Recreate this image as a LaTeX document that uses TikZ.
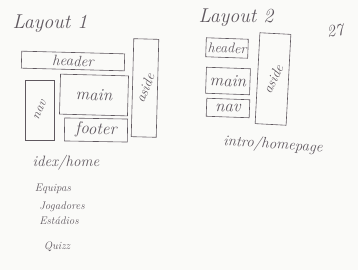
\documentclass[tikz,border=0pt]{standalone}
\usepackage{tikz}
\usetikzlibrary{positioning}
\definecolor{pencil}{RGB}{95,88,95}
\definecolor{paper}{RGB}{250,250,248}
\tikzset{
  box/.style={draw=pencil, line width=0.6pt, inner sep=0pt, text=pencil},
  hand/.style={text=pencil, font=\itshape},
}
\newcommand{\fsz}[1]{\itshape\fontsize{#1}{#1}\selectfont}

\begin{document}
\begin{tikzpicture}[x=1pt,y=-1pt]
\fill[paper] (0,0) rectangle (358,270);
\useasboundingbox (0,0) rectangle (358,270);
% first layout
\node (titA) at (50,24) [hand, font=\fsz{20}] {Layout 1};
\node (hdrA) at (73,61) [box, rotate=-1.5, minimum width=103, minimum height=17, font=\fsz{15}] {header};
\node (navA) at (40,110) [box, minimum width=29, minimum height=60, font=\fsz{13}] {\raisebox{-20pt}{\rotatebox{65}{nav}}};
\node (mainA) at (94,95) [box, rotate=-1.5, minimum width=68, minimum height=40, font=\fsz{17}] {main};
\node (ftrA) at (96,130) [box, rotate=-1, minimum width=63, minimum height=23, font=\fsz{17}] {footer};
\node (asdA) at (145,88) [box, rotate=-1.5, minimum width=25, minimum height=98, font=\fsz{14}] {\rotatebox{70}{aside}};
% pages of the first layout
\node (pgHome) at (66,163) [hand, font=\fsz{15}] {idex/home};
\node (pgEq) at (53,189) [hand, font=\fsz{11}] {Equipas};
\node (pgJog) at (62,207) [hand, font=\fsz{11}] {Jogadores};
\node (pgEst) at (59,221) [hand, font=\fsz{11}] {Estádios};
\node (pgQz) at (57,247) [hand, font=\fsz{11}] {Quizz};
% second layout
\node (titB) at (236,18) [hand, font=\fsz{20}] {Layout 2};
\node (pgNum) at (335,31) [hand, rotate=10, font=\fsz{17}] {27};
\node (hdrB) at (227,48) [box, rotate=-2, minimum width=42, minimum height=19, font=\fsz{14}] {header};
\node (mainB) at (228,81) [box, rotate=-2, minimum width=44, minimum height=26, font=\fsz{17}] {main};
\node (navB) at (228,108) [box, rotate=-2, minimum width=43, minimum height=18, font=\fsz{17}] {nav};
\node (asdB) at (273,79) [box, rotate=-3, minimum width=31, minimum height=91, font=\fsz{14}] {\raisebox{-6pt}{\rotatebox{68}{aside}}};
\node (pgIntro) at (273,145) [hand, rotate=-4, font=\fsz{15}] {intro/homepage};
\end{tikzpicture}
\end{document}
